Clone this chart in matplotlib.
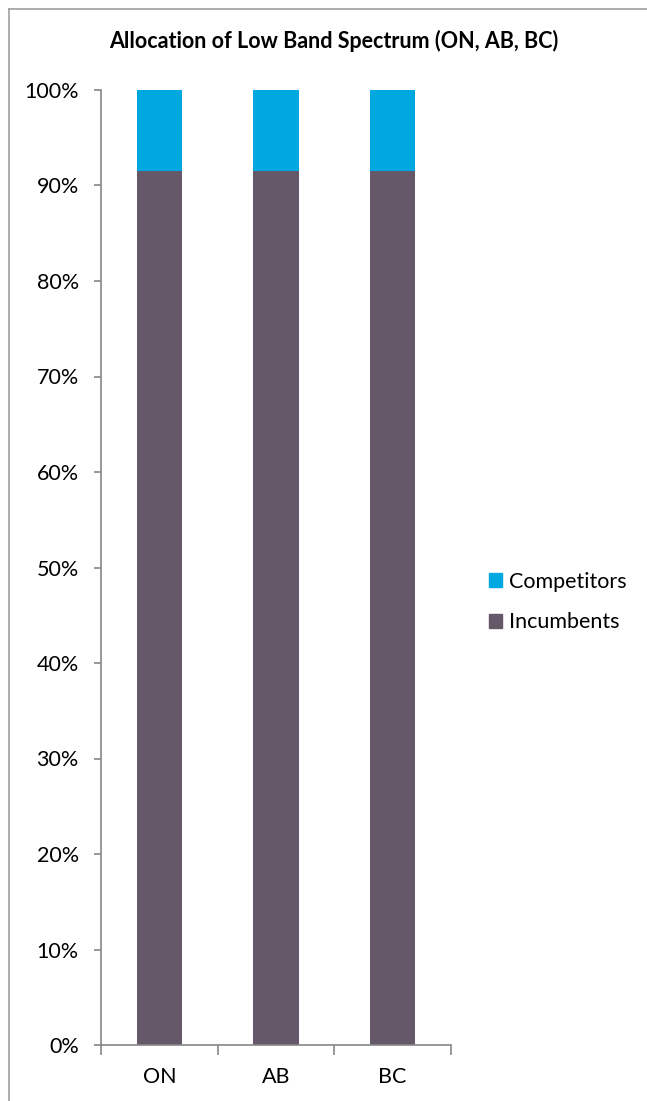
import matplotlib
matplotlib.use("Agg")
import matplotlib.pyplot as plt
from matplotlib.lines import Line2D
from matplotlib.ticker import FixedLocator, PercentFormatter

categories = ["ON", "AB", "BC"]
incumbents = [91.5, 91.5, 91.5]
competitors = [8.5, 8.5, 8.5]
yticks = [0, 10, 20, 30, 40, 50, 60, 70, 80, 90, 100]

plt.rcParams['font.family'] = ['Lato', 'DejaVu Sans']

fig = plt.figure(figsize=(6.47, 11.01), dpi=100)
ax = fig.add_axes([101/647, 56/1101, 350/647, 955/1101])

x = list(range(len(categories)))
c_inc = "#655869"
c_comp = "#00A8E1"
ax.bar(x, incumbents, width=0.39, color=c_inc, label="Incumbents")
ax.bar(x, competitors, width=0.39, bottom=incumbents, color=c_comp, label="Competitors")

fs = 15.5
ax.set_xlim(-0.5, 2.5)
ax.set_ylim(0, 100)
ax.set_yticks(yticks)
ax.yaxis.set_major_formatter(PercentFormatter(decimals=0))
ax.set_xticks(x)
ax.set_xticklabels(categories)
ax.xaxis.set_minor_locator(FixedLocator([-0.5, 0.5, 1.5, 2.5]))
ax.tick_params(axis='x', which='major', length=0, pad=16, labelsize=fs)
ax.tick_params(axis='x', which='minor', length=7, color="#868686", width=1.2)
ax.tick_params(axis='y', which='major', length=5, color="#868686", width=1.2, labelsize=fs, pad=11)

for s in ["top", "right"]:
    ax.spines[s].set_visible(False)
for s in ["left", "bottom"]:
    ax.spines[s].set_color("#868686")
    ax.spines[s].set_linewidth(1.2)

handles = [plt.Rectangle((0, 0), 1, 1, color=c_comp), plt.Rectangle((0, 0), 1, 1, color=c_inc)]
fig.legend(handles, ["Competitors", "Incumbents"], loc="center left",
           bbox_to_anchor=(478/647, 1 - 602/1101), frameon=False, fontsize=fs,
           borderpad=0, handlelength=0.62, handleheight=0.62, handletextpad=0.33,
           labelspacing=0.95)

fig.text(334/647, 1 - 48/1101, "Allocation of Low Band Spectrum (ON, AB, BC)",
         ha="center", va="baseline", fontsize=15.5, fontweight="bold")

# chart border (left and top visible)
fig.add_artist(Line2D([8.5/647, 8.5/647], [0, 1 - 8.5/1101], transform=fig.transFigure, color="#A0A0A0", lw=1.2))
fig.add_artist(Line2D([8.5/647, 1], [1 - 8.5/1101, 1 - 8.5/1101], transform=fig.transFigure, color="#A0A0A0", lw=1.2))

fig.savefig("out.png", dpi=100)
